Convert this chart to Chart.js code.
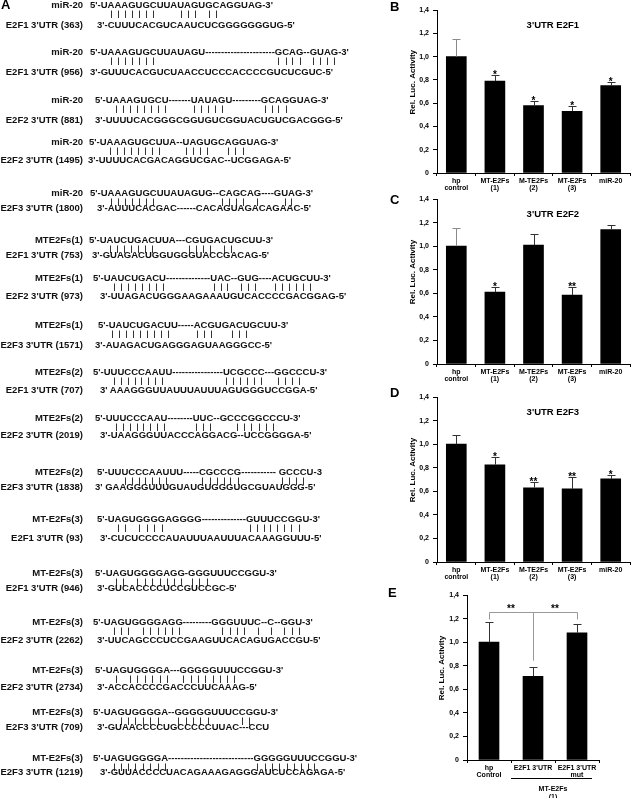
<!DOCTYPE html>
<html><head><meta charset="utf-8">
<script src="https://cdn.jsdelivr.net/npm/chart.js@4.4.0/dist/chart.umd.min.js"></script>
<style>
html,body{margin:0;padding:0;background:#fff;}
body{width:632px;height:798px;position:relative;overflow:hidden;font-family:"Liberation Sans",Arial,Helvetica,sans-serif;color:#111;}
.seq{position:absolute;font-weight:bold;font-size:9.5px;line-height:12px;white-space:pre;}
.lab{position:absolute;font-weight:bold;font-size:9.5px;line-height:12px;white-space:pre;text-align:right;width:120px;}
.panel{position:absolute;font-weight:bold;font-size:13px;line-height:14px;color:#000;}
canvas.chart{position:absolute;}
#pairs{position:absolute;left:0;top:0;}
</style></head><body>
<canvas id="pairs" width="390" height="798"></canvas>
<div class="panel" style="left:1px;top:-2px">A</div>
<div class="panel" style="left:390px;top:0px">B</div>
<div class="panel" style="left:390px;top:193px">C</div>
<div class="panel" style="left:390px;top:386px">D</div>
<div class="panel" style="left:388px;top:586px">E</div>
<canvas class="chart" id="cB" width="237" height="200" style="left:395px;top:0px"></canvas>
<canvas class="chart" id="cC" width="237" height="200" style="left:395px;top:190px"></canvas>
<canvas class="chart" id="cD" width="237" height="200" style="left:395px;top:388px"></canvas>
<canvas class="chart" id="cE" width="212" height="213" style="left:420px;top:585px"></canvas>
<script>
// ---------------- Panel A data ----------------
const alignTopLabels = ["miR-20","miR-20","miR-20","miR-20","miR-20","MTE2Fs(1)","MTE2Fs(1)","MTE2Fs(1)","MTE2Fs(2)","MTE2Fs(2)","MTE2Fs(2)","MT-E2Fs(3)","MT-E2Fs(3)","MT-E2Fs(3)","MT-E2Fs(3)","MT-E2Fs(3)","MT-E2Fs(3)"];
const alignBottomLabels = ["E2F1 3'UTR (363)","E2F1 3'UTR (956)","E2F2 3'UTR (881)","E2F2 3'UTR (1495)","E2F3 3'UTR (1800)","E2F1 3'UTR (753)","E2F2 3'UTR (973)","E2F3 3'UTR (1571)","E2F1 3'UTR (707)","E2F2 3'UTR (2019)","E2F3 3'UTR (1838)","E2F1 3'UTR (93)","E2F1 3'UTR (946)","E2F2 3'UTR (2262)","E2F2 3'UTR (2734)","E2F3 3'UTR (709)","E2F3 3'UTR (1219)"];
const alignTopSeqs = [
"5'-UAAAGUGCUUAUAGUGCAGGUAG-3'",
"5'-UAAAGUGCUUAUAGU----------------------GCAG--GUAG-3'",
"5'-UAAAGUGCU-------UAUAGU---------GCAGGUAG-3'",
"5'-UAAAGUGCUUA--UAGUGCAGGUAG-3'",
"5'-UAAAGUGCUUAUAGUG--CAGCAG----GUAG-3'",
"5'-UAUCUGACUUA---CGUGACUGCUU-3'",
"5'-UAUCUGACU--------------UAC--GUG----ACUGCUU-3'",
"5'-UAUCUGACUU-----ACGUGACUGCUU-3'",
"5'-UUUCCCAAUU----------------UCGCCC---GGCCCU-3'",
"5'-UUUCCCAAU--------UUC--GCCCGGCCCU-3'",
"5'-UUUCCCAAUUU-----CGCCCG----------- GCCCU-3",
"5'-UAGUGGGGAGGGG--------------GUUUCCGGU-3'",
"5'-UAGUGGGGAGG-GGGUUUCCGGU-3'",
"5'-UAGUGGGGAGG---------GGGUUUC--C--GGU-3'",
"5'-UAGUGGGGA---GGGGGUUUCCGGU-3'",
"5'-UAGUGGGGA--GGGGGUUUCCGGU-3'",
"5'-UAGUGGGGA---------------------------GGGGGUUUCCGGU-3'"];
const alignBottomSeqs = [
"3'-CUUUCACGUCAAUCUCGGGGGGGUG-5'",
"3'-GUUUCACGUCUAACCUCCCACCCCGUCUCGUC-5'",
"3'-UUUUCACGGGCGGUGUCGGUACUGUCGACGGG-5'",
"3'-UUUUCACGACAGGUCGAC--UCGGAGA-5'",
"3'-AUUUCACGAC------CACAGUAGACAGAAC-5'",
"3'-GUAGACUGGUGGGUACCGACAG-5'",
"3'-UUAGACUGGGAAGAAAUGUCACCCCGACGGAG-5'",
"3'-AUAGACUGAGGGAGUAAGGGCC-5'",
"3' AAAGGGUUAUUUAUUUAGUGGGUCCGGA-5'",
"3'-UAAGGGUUACCCAGGACG--UCCGGGGA-5'",
"3' GAAGGGUUUGUAUGUGGGUGCGUAUGGG-5'",
"3'-CUCUCCCCAUAUUUAAUUUACAAAGGUUU-5'",
"3'-GUCACCCCUCCGUCCGC-5'",
"3'-UUCAGCCCUCCGAAGUUCACAGUGACCGU-5'",
"3'-ACCACCCCGACCCUUCAAAG-5'",
"3'-GUAACCCCUGCCCCCUUAC---CCU",
"3'-GUUACCCCUACAGAAAGAGGGAUCUCCAGAGA-5'"];
// base-pair marks: ranges of character indices in the top sequence
const alignPairs = [
[[4,10],[14,16],[18,19]],
[[4,10],[40,43],[46,49]],
[[4,11],[19,23],[34,37]],
[[4,11],[16,19],[22,24]],
[[4,10],[21,24],[26,26],[32,33]],
[[4,10],[17,20],[22,23]],
[[4,11],[26,28],[31,33],[38,43]],
[[3,11],[18,20],[23,25]],
[[4,11],[29,34],[38,41]],
[[4,11],[20,22],[27,32]],
[[5,11],[19,24],[37,40]],
[[4,5],[7,10],[30,37]],
[[4,5],[7,13],[15,17]],
[[4,6],[8,13],[24,27],[29,29],[32,32],[35,37]],
[[4,4],[6,11],[15,22]],
[[5,10],[14,18],[23,24]],
[[4,11],[39,47]]];
// layout of panel A (pixel placement, not data)
const layTopY = [5,52,100,142,193,240,278,325,372,418,472,519,573,622,670,712,758];
const layBotY = [25,72,120,160,208,255,296,345,390,435,487,538,588,640,687,727,772];
const layTopX = [90,90,95,89,90,89,93,98,93,95,97,97,95,93,95,93,93];
const layBotX = [97,90,95,88,97,92,100,95,100,100,95,100,97,97,97,97,100];

// ---------------- Panels B-E data ----------------
const hpLabels = [["hp","control"],["MT-E2Fs","(1)"],["M-TE2Fs","(2)"],["MT-E2Fs","(3)"],"miR-20"];
const e2f1Values = [1.00, 0.79, 0.58, 0.53, 0.75];
const e2f1Errors = [0.15, 0.05, 0.04, 0.045, 0.03];
const e2f1Stars  = ["", "*", "*", "*", "*"];
const e2f2Values = [1.00, 0.61, 1.01, 0.585, 1.14];
const e2f2Errors = [0.155, 0.045, 0.09, 0.065, 0.04];
const e2f2Stars  = ["", "*", "", "**", ""];
const e2f3Values = [1.00, 0.825, 0.63, 0.62, 0.705];
const e2f3Errors = [0.075, 0.065, 0.05, 0.105, 0.037];
const e2f3Stars  = ["", "*", "**", "**", "*"];
const mutLabels = [["hp","Control"],"E2F1 3'UTR",["E2F1 3'UTR","mut"]];
const mutValues = [1.00, 0.71, 1.08];
const mutErrors = [0.17, 0.08, 0.07];
const mutBrackets = [[0,1,"**"],[1,2,"**"]];
const yTickValues = [0,0.2,0.4,0.6,0.8,1.0,1.2,1.4];

const FONT = '"Liberation Sans", Arial, Helvetica, sans-serif';

// ---------------- Build panel A ----------------
(function(){
  const body = document.body;
  function addDiv(cls, text, left, top){
    const d = document.createElement('div');
    d.className = cls; d.textContent = text;
    d.style.left = left + 'px'; d.style.top = top + 'px';
    body.appendChild(d);
  }
  for (let i = 0; i < alignTopSeqs.length; i++) {
    addDiv('lab', alignTopLabels[i], 83 - 120, layTopY[i] - 6);
    addDiv('lab', alignBottomLabels[i], 83 - 120, layBotY[i] - 6);
    addDiv('seq', alignTopSeqs[i], layTopX[i], layTopY[i] - 6);
    addDiv('seq', alignBottomSeqs[i], layBotX[i], layBotY[i] - 6);
  }
  const cv = document.getElementById('pairs');
  const ctx = cv.getContext('2d');
  ctx.font = 'bold 9.5px ' + FONT;
  ctx.strokeStyle = '#333'; ctx.lineWidth = 1;
  for (let i = 0; i < alignTopSeqs.length; i++) {
    const s = alignTopSeqs[i];
    ctx.beginPath();
    alignPairs[i].forEach(([a,b]) => {
      for (let k = a; k <= b; k++) {
        const x = layTopX[i] + ctx.measureText(s.slice(0,k)).width + ctx.measureText(s[k]).width/2;
        const xx = Math.round(x) + 0.5;
        ctx.moveTo(xx, layTopY[i] + 5.5);
        ctx.lineTo(xx, layTopY[i] + 13);
      }
    });
    ctx.stroke();
  }
})();

// ---------------- Chart plugins ----------------
function fmtTick(v){ return Math.abs(v) < 1e-9 ? '0' : v.toFixed(1).replace('.', ','); }

const errorBarPlugin = {
  id: 'errbars',
  afterDatasetsDraw(chart, args, o) {
    const {ctx, scales:{y}} = chart;
    const meta = chart.getDatasetMeta(0);
    const vals = chart.data.datasets[0].data;
    ctx.save();
    meta.data.forEach((bar, i) => {
      const yt = Math.round(y.getPixelForValue(vals[i] + o.errors[i])) + 0.5;
      const x = Math.round(bar.x) + 0.5;
      ctx.strokeStyle = o.colors ? o.colors[i] : '#333';
      ctx.lineWidth = 1;
      ctx.beginPath();
      ctx.moveTo(x, bar.y); ctx.lineTo(x, yt);
      ctx.moveTo(x - 4, yt); ctx.lineTo(x + 4, yt);
      ctx.stroke();
      const s = o.stars ? o.stars[i] : '';
      if (s) {
        ctx.fillStyle = '#000'; ctx.font = 'bold 10px ' + FONT;
        ctx.textAlign = 'center'; ctx.textBaseline = 'alphabetic';
        ctx.fillText(s, bar.x, yt + 2);
      }
    });
    ctx.restore();
  }
};
const innerTitlePlugin = {
  id: 'innerTitle',
  afterDraw(chart, args, o) {
    if (!o.text) return;
    const {ctx, chartArea, scales:{y}} = chart;
    ctx.save();
    ctx.font = 'bold 9.5px ' + FONT; ctx.fillStyle = '#000';
    ctx.textAlign = 'center'; ctx.textBaseline = 'middle';
    ctx.fillText(o.text, chartArea.left + o.xFrac*(chartArea.right-chartArea.left), y.getPixelForValue(o.value));
    ctx.restore();
  }
};
const yTitlePlugin = {
  id: 'yTitle',
  afterDraw(chart, args, o) {
    const {ctx, chartArea, scales:{y}} = chart;
    ctx.save();
    ctx.translate(chartArea.left - o.dx, y.getPixelForValue(o.value));
    ctx.rotate(-Math.PI/2);
    ctx.font = 'bold 8px ' + FONT; ctx.fillStyle = '#000';
    ctx.textAlign = 'center'; ctx.textBaseline = 'middle';
    ctx.fillText(o.text, 0, 0);
    ctx.restore();
  }
};
const bracketPlugin = {
  id: 'brackets',
  afterDraw(chart, args, o) {
    if (!o.pairs) return;
    const {ctx, scales:{x, y}, chartArea} = chart;
    ctx.save();
    ctx.strokeStyle = '#999'; ctx.lineWidth = 1;
    const yTop = Math.round(y.getPixelForValue(o.level)) + 0.5;
    const yEnd = Math.round(y.getPixelForValue(o.endLevel)) + 0.5;
    const yMid = Math.round(y.getPixelForValue(o.midLevel)) + 0.5;
    ctx.beginPath();
    o.pairs.forEach(([a,b,s]) => {
      const xa = Math.round(x.getPixelForValue(a)) + 0.5, xb = Math.round(x.getPixelForValue(b)) + 0.5;
      ctx.moveTo(xa, a === 1 ? yMid : yEnd); ctx.lineTo(xa, yTop); ctx.lineTo(xb, yTop); ctx.lineTo(xb, b === 1 ? yMid : yEnd);
    });
    ctx.stroke();
    ctx.fillStyle = '#000'; ctx.font = 'bold 10px ' + FONT; ctx.textAlign = 'center'; ctx.textBaseline = 'alphabetic';
    o.pairs.forEach(([a,b,s]) => {
      ctx.fillText(s, (x.getPixelForValue(a) + x.getPixelForValue(b))/2, yTop - 1);
    });
    // group line under axis labels
    const xs = (x.getPixelForValue(0) + x.getPixelForValue(1))/2;
    const xe = x.getPixelForValue(2) + 15;
    const yl = chartArea.bottom + o.groupLineOffset + 0.5;
    ctx.strokeStyle = '#000';
    ctx.beginPath(); ctx.moveTo(xs, yl); ctx.lineTo(xe, yl); ctx.stroke();
    ctx.font = 'bold 7px ' + FONT; ctx.textBaseline = 'middle';
    const cx = (x.getPixelForValue(1) + x.getPixelForValue(2))/2 - 2;
    ctx.fillText(o.groupText[0], cx, yl + 11);
    ctx.fillText(o.groupText[1], cx, yl + 19);
    ctx.restore();
  }
};

function makeChart(id, labels, values, errors, stars, title, lay, extra) {
  const tickFont = {size: 7, weight: 'bold', family: FONT, lineHeight: 1.1};
  return new Chart(document.getElementById(id), {
    type: 'bar',
    data: { labels: labels, datasets: [{ data: values, backgroundColor: '#000', borderWidth: 0, barThickness: 20 }] },
    options: {
      responsive: false, animation: false, devicePixelRatio: 1,
      layout: { padding: lay.padding },
      plugins: {
        legend: {display: false}, tooltip: {enabled: false}, title: {display: false},
        errbars: { errors: errors, stars: stars, colors: lay.errColors },
        innerTitle: { text: title, xFrac: 0.6, value: 1.27 },
        yTitle: { text: 'Rel. Luc. Activity', dx: lay.titleDx, value: 0.78 },
        brackets: extra || {}
      },
      scales: {
        x: {
          grid: {display: true, drawOnChartArea: false, drawTicks: true, tickLength: 3, offset: true, color: '#000'},
          border: {display: true, color: '#000', width: 1},
          ticks: {font: tickFont, color: '#000', padding: 1, maxRotation: 0, minRotation: 0, autoSkip: false},
          afterFit(s) { s.height = lay.xh; }
        },
        y: {
          min: 0, max: 1.4,
          afterBuildTicks(s) { s.ticks = yTickValues.map(v => ({value: v})); },
          grid: {display: true, drawOnChartArea: false, drawTicks: true, tickLength: 4, color: '#000'},
          border: {display: true, color: '#000', width: 1},
          ticks: {font: tickFont, color: '#000', padding: 4, callback: v => fmtTick(v)},
          afterFit(s) { s.width = lay.yw; }
        }
      }
    },
    plugins: [errorBarPlugin, innerTitlePlugin, yTitlePlugin, bracketPlugin]
  });
}

const greyFirst = ['#8a8a8a','#333','#333','#333','#333'];
makeChart('cB', hpLabels, e2f1Values, e2f1Errors, e2f1Stars, "3'UTR E2F1",
  {padding: {top: 10, right: 2, left: 0, bottom: 0}, yw: 42, xh: 27, titleDx: 24, errColors: greyFirst});
makeChart('cC', hpLabels, e2f2Values, e2f2Errors, e2f2Stars, "3'UTR E2F2",
  {padding: {top: 9, right: 2, left: 0, bottom: 0}, yw: 42, xh: 26, titleDx: 24, errColors: greyFirst});
makeChart('cD', hpLabels, e2f3Values, e2f3Errors, e2f3Stars, "3'UTR E2F3",
  {padding: {top: 9, right: 2, left: 0, bottom: 0}, yw: 42, xh: 26, titleDx: 24});
makeChart('cE', mutLabels, mutValues, mutErrors, null, "",
  {padding: {top: 10, right: 33, left: 0, bottom: 0}, yw: 47, xh: 38, titleDx: 25},
  {pairs: mutBrackets, level: 1.255, endLevel: 1.20, midLevel: 0.845, groupLineOffset: 18, groupText: ["MT-E2Fs","(1)"]});
</script>
</body></html>
